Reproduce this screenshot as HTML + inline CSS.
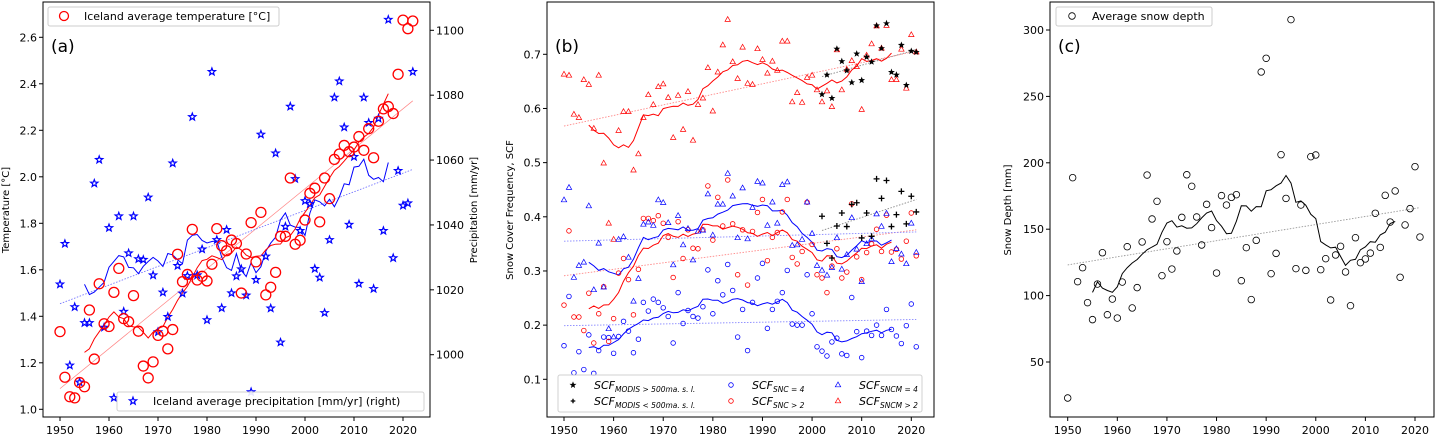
<!DOCTYPE html>
<html><head><meta charset="utf-8">
<style>
html,body{margin:0;padding:0;background:#fff;}
svg{display:block;font-family:"DejaVu Sans","Liberation Sans",sans-serif;}
</style></head>
<body>
<svg id="fig" width="1439" height="436" viewBox="0 0 1439 436" xmlns="http://www.w3.org/2000/svg"></svg>
<script>
// ---------- data ----------
const yearsA = Array.from({length:73},(_,i)=>1950+i);
const tempA = [1.334,1.138,1.054,1.049,1.115,1.097,1.427,1.216,1.54,1.368,1.356,1.503,1.606,1.39,1.377,1.489,1.336,1.186,1.135,1.204,1.318,1.336,1.26,1.343,1.667,1.549,1.58,1.774,1.556,1.572,1.552,1.624,1.777,1.704,1.682,1.728,1.713,1.5,1.668,1.803,1.634,1.847,1.492,1.525,1.589,1.744,1.744,1.995,1.71,1.727,1.814,1.929,1.951,1.806,1.995,1.906,2.075,2.098,2.135,2.108,2.128,2.173,2.114,2.207,2.082,2.239,2.292,2.302,2.272,2.441,2.674,2.637,2.67];
const precipA = [1021.7,1034.2,996.7,1014.7,991.5,1009.8,1009.8,1052.8,1060.1,1008.4,1039.1,986.7,1042.7,1013.3,1031.3,1042.7,1029.5,1029.3,1048.5,1024.5,1007,1019.2,1011.7,1059,1027.4,1018.9,1024.3,1073.3,1024.5,1032.5,1010.7,1087.2,1035.4,1014.4,1038.5,1019,1024.2,1026.4,1018.3,988.5,1023.1,1067.9,1030.3,1014.3,1062.1,1003.8,1039.5,1076.5,1054.2,1038.2,1047.4,1046.5,1026.5,1023.8,1012.9,1035.4,1079.3,1084.3,1070.1,1040.1,1061,1021.9,1079.3,1071.5,1020.3,1072.8,1038.2,1103.3,1029.8,1056.7,1046,1046.7,1087.2];
const tempTicks = [1.0,1.2,1.4,1.6,1.8,2.0,2.2,2.4,2.6];
const precipTicks = [1000,1020,1040,1060,1080,1100];
const yearTicks = [1950,1960,1970,1980,1990,2000,2010,2020];

const yearsB = Array.from({length:72},(_,i)=>1950+i);
const sncm2 = [.663,.661,.589,.583,.653,.644,.563,.661,.499,.388,.358,.559,.594,.594,.486,.516,.583,.625,.607,.640,.645,.620,.546,.624,.561,.631,.541,.607,.619,.675,.595,.667,.717,.764,.686,.655,.713,.646,.644,.710,.690,.665,.687,.670,.724,.724,.612,.629,.611,.657,.661,.634,.612,.632,.603,.708,.634,.672,.688,.677,.598,.698,.719,.752,.711,.753,.653,.653,.709,.637,.736,.704];
const sncm4 = [.431,.454,.288,.310,.316,.420,.265,.351,.270,.193,.178,.358,.363,.325,.244,.286,.386,.390,.384,.431,.426,.389,.311,.402,.348,.378,.320,.373,.375,.442,.366,.423,.423,.480,.438,.361,.453,.359,.417,.465,.462,.384,.427,.388,.459,.464,.347,.348,.358,.427,.369,.310,.301,.292,.306,.361,.303,.330,.398,.340,.280,.350,.359,.405,.382,.406,.317,.341,.331,.313,.388,.334];
const snc2 = [.237,.374,.215,.215,.190,.259,.167,.221,.271,.170,.212,.296,.323,.284,.219,.303,.397,.397,.393,.402,.388,.362,.288,.391,.323,.376,.342,.341,.376,.457,.357,.436,.383,.468,.387,.293,.376,.274,.373,.408,.432,.319,.362,.371,.409,.432,.325,.313,.336,.427,.349,.293,.287,.260,.309,.341,.287,.298,.424,.326,.284,.334,.350,.377,.336,.403,.335,.340,.322,.355,.407,.328];
const snc4 = [.162,.253,.112,.151,.118,.182,.111,.153,.178,.177,.148,.179,.207,.189,.149,.174,.242,.226,.248,.242,.232,.216,.167,.260,.203,.227,.216,.213,.234,.302,.221,.282,.256,.312,.264,.178,.229,.153,.242,.287,.314,.194,.229,.244,.260,.301,.202,.200,.200,.293,.221,.160,.152,.143,.169,.176,.147,.144,.251,.188,.140,.189,.181,.200,.181,.229,.192,.180,.166,.199,.239,.160];
const yearsM = Array.from({length:20},(_,i)=>2002+i);
const modisHi = [.626,.662,.619,.710,.687,.670,.648,.701,.652,.695,.686,.753,.711,.757,.667,.662,.717,.643,.706,.704];
const modisLo = [.401,.351,.324,.383,.407,.382,.423,.426,.361,.407,.364,.470,.434,.467,.382,.404,.447,.387,.438,.409];
const scfTicks = [0.1,0.2,0.3,0.4,0.5,0.6,0.7];

const yearsC = Array.from({length:72},(_,i)=>1950+i);
const depthC = [22.9,188.8,110.5,121,94.7,81.9,108.7,132.3,85.6,97.4,83.1,110.2,136.8,90.7,106,140.4,190.8,157.7,171,115,140.6,120,133.6,158.9,191,182.3,159.2,138.1,168.7,151.2,117,175.3,168.2,174,176,111.2,136.1,97,141.6,268.4,278.7,116.5,131.8,206.1,173.2,307.8,120.3,168.2,119,204.6,205.9,119.5,127.8,96.7,130.6,137.1,117.8,92.4,143.6,124.8,127.6,132,162,136.3,175.5,155.4,178.8,113.8,153.2,165.5,197.1,144.1];
const depthTicks = [50,100,150,200,250,300];

// ---------- helpers ----------
const NS="http://www.w3.org/2000/svg";
const fig=document.getElementById('fig');
function el(tag,attrs,parent){const e=document.createElementNS(NS,tag);for(const k in attrs)e.setAttribute(k,attrs[k]);(parent||fig).appendChild(e);return e;}
function lin(d0,d1,r0,r1){return v=>r0+(v-d0)*(r1-r0)/(d1-d0);}
function rolling(xs,vs,w){const h=Math.floor(w/2),ox=[],ov=[];for(let i=h;i<vs.length-h;i++){let s=0;for(let j=i-h;j<=i+h;j++)s+=vs[j];ox.push(xs[i]);ov.push(s/w);}return [ox,ov];}
function fit(xs,vs){const n=xs.length;let mx=0,my=0;for(let i=0;i<n;i++){mx+=xs[i];my+=vs[i];}mx/=n;my/=n;let a=0,b=0;for(let i=0;i<n;i++){a+=(xs[i]-mx)*(vs[i]-my);b+=(xs[i]-mx)**2;}const k=a/b;return x=>my+k*(x-mx);}
function pathD(xs,vs,sx,sy){return xs.map((x,i)=>(i?'L':'M')+sx(x).toFixed(1)+','+sy(vs[i]).toFixed(1)).join(' ');}
function starPts(cx,cy,r){let p=[];for(let i=0;i<10;i++){const rr=i%2?r*0.42:r;const a=-Math.PI/2+i*Math.PI/5;p.push((cx+rr*Math.cos(a)).toFixed(1)+','+(cy+rr*Math.sin(a)).toFixed(1));}return p.join(' ');}
function triPts(cx,cy,r){return [[cx,cy-r],[cx-r*0.9,cy+r*0.6],[cx+r*0.9,cy+r*0.6]].map(p=>p[0].toFixed(1)+','+p[1].toFixed(1)).join(' ');}
function marker(g,type,cx,cy,r,color){
  if(type==='circle')return el('circle',{cx:cx,cy:cy,r:r,fill:'none',stroke:color,'stroke-width':r>4?1.3:0.8},g);
  if(type==='star')return el('polygon',{points:starPts(cx,cy,r),fill:color==='#000'?'#000':'none',stroke:color,'stroke-width':color==='#000'?0.6:1.2},g);
  if(type==='tri')return el('polygon',{points:triPts(cx,cy,r),fill:'none',stroke:color,'stroke-width':0.7},g);
  if(type==='plus')return el('path',{d:`M${cx-r},${cy}H${cx+r}M${cx},${cy-r}V${cy+r}`,stroke:color,'stroke-width':1.3},g);
}
function frame(x0,x1,y0,y1,name){const r=el('rect',{x:x0,y:y0,width:x1-x0,height:y1-y0,fill:'none',stroke:'#000','stroke-width':1});

}
function xAxis(sx,yb,name){const g=el('g',{});


yearTicks.forEach(t=>{el('line',{x1:sx(t),x2:sx(t),y1:yb,y2:yb+4,stroke:'#000'},g);const tx=el('text',{x:sx(t),y:yb+17,'font-size':11,'text-anchor':'middle',fill:'#000'},g);tx.textContent=t;});}
function yAxis(sy,ticks,x,side,fmt,name){const g=el('g',{});


ticks.forEach(t=>{const y=sy(t);el('line',{x1:x,x2:x+(side<0?-4:4),y1:y,y2:y,stroke:'#000'},g);const tx=el('text',{x:x+(side<0?-6:6),y:y+4,'font-size':11,'text-anchor':side<0?'end':'start',fill:'#000'},g);tx.textContent=fmt(t);});}
function vlabel(x,y,txt,name,size){const t=el('text',{x:0,y:0,transform:`translate(${x},${y}) rotate(-90)`,'font-size':size||10,'text-anchor':'middle',fill:'#000'});t.textContent=txt;

}
function label(x,y,txt,name){const t=el('text',{x:x,y:y,'font-size':17,fill:'#000'});t.textContent=txt;

}

// ---------- panel (a) ----------
const axA={x0:43,x1:430,y0:2,y1:417};
const sxA=lin(1950,2020,60,403), syT=lin(1.0,2.6,409.3,37.3), syP=lin(1000,1100,354.7,30.3);
{
  const g=el('g',{});
  
  
  const fT=fit(yearsA,tempA), fP=fit(yearsA,precipA);
  const tl=el('line',{x1:sxA(1950),y1:syT(fT(1950)),x2:sxA(2022),y2:syT(fT(2022)),stroke:'#f66','stroke-width':0.7,opacity:0.8},g);
  
  
  const pl=el('line',{x1:sxA(1950),y1:syP(fP(1950)),x2:sxA(2022),y2:syP(fP(2022)),stroke:'#66f','stroke-width':0.8,'stroke-dasharray':'1.5,1.5'},g);
  
  
  const [rxT,rvT]=rolling(yearsA,tempA,11), [rxP,rvP]=rolling(yearsA,precipA,11);
  const lp=el('path',{d:pathD(rxP,rvP,sxA,syP),fill:'none',stroke:'#00f','stroke-width':1},g);
  
  
  const lt=el('path',{d:pathD(rxT,rvT,sxA,syT),fill:'none',stroke:'#f00','stroke-width':1},g);
  
  
  yearsA.forEach((y,i)=>{const m=marker(g,'star',sxA(y),syP(precipA[i]),3.8,'#00f');
    
    });
  yearsA.forEach((y,i)=>{const m=marker(g,'circle',sxA(y),syT(tempA[i]),5,'#f00');
    
    });
}
frame(axA.x0,axA.x1,axA.y0,axA.y1,'panel-a-frame');
xAxis(sxA,axA.y1,'panel-a-x-axis');
yAxis(syT,tempTicks,axA.x0,-1,t=>t.toFixed(1),'temperature-y-axis');
yAxis(syP,precipTicks,axA.x1,1,t=>t,'precipitation-y-axis');
vlabel(9,210,'Temperature [°C]','temperature-axis-title');
vlabel(477,210,'Precipitation [mm/yr]','precipitation-axis-title');
label(51,52,'(a)','panel-a-label');
{
  const g=el('g',{});
  
  
  el('rect',{x:48,y:7,width:231,height:19,rx:2,fill:'#fff',stroke:'#ccc'},g);
  marker(g,'circle',64,16,4.5,'#f00');
  const t=el('text',{x:84,y:20,'font-size':11,fill:'#000'},g);t.textContent='Iceland average temperature [°C]';
  const g2=el('g',{});
  
  
  el('rect',{x:117,y:392,width:307,height:19,rx:2,fill:'#fff',stroke:'#ccc',opacity:0.9},g2);
  marker(g2,'star',133,401,3.8,'#00f');
  const t2=el('text',{x:153,y:405,'font-size':11,fill:'#000'},g2);t2.textContent='Iceland average precipitation [mm/yr] (right)';
}

// ---------- panel (b) ----------
const axB={x0:547,x1:934,y0:2,y1:417};
const sxB=lin(1950,2020,564,911.3), syB=lin(0.1,0.7,379.3,54.3);
{
  const g=el('g',{});
  
  
  const trends=[[yearsB,sncm2,'#f88'],[yearsB,snc2,'#f88'],[yearsB,sncm4,'#88f'],[yearsB,snc4,'#88f'],[yearsM,modisHi,'#888'],[yearsM,modisLo,'#888']];
  trends.forEach(([xs,vs,c])=>{const f=fit(xs,vs);const x0=xs[0],x1=xs[xs.length-1];
    const l=el('line',{x1:sxB(x0),y1:syB(f(x0)),x2:sxB(x1),y2:syB(f(x1)),stroke:c,'stroke-width':0.9,'stroke-dasharray':'1.5,1.5'},g);
    
    });
  [[sncm2,'#f00'],[snc2,'#f00'],[sncm4,'#00f'],[snc4,'#00f']].forEach(([vs,c])=>{const [rx,rv]=rolling(yearsB,vs,11);
    const p=el('path',{d:pathD(rx,rv,sxB,syB),fill:'none',stroke:c,'stroke-width':1},g);
    
    });
  yearsB.forEach((y,i)=>{
    const a=marker(g,'circle',sxB(y),syB(snc4[i]),2.3,'#00f');
    
    
    const b=marker(g,'circle',sxB(y),syB(snc2[i]),2.3,'#f00');
    
    
    const c=marker(g,'tri',sxB(y),syB(sncm4[i]),3,'#00f');
    
    
    const d=marker(g,'tri',sxB(y),syB(sncm2[i]),3,'#f00');
    
    
  });
  yearsM.forEach((y,i)=>{
    const a=marker(g,'star',sxB(y),syB(modisHi[i]),2.8,'#000');
    
    
    const b=marker(g,'plus',sxB(y),syB(modisLo[i]),3,'#000');
    
    
  });
}
frame(axB.x0,axB.x1,axB.y0,axB.y1,'panel-b-frame');
xAxis(sxB,axB.y1,'panel-b-x-axis');
yAxis(syB,scfTicks,axB.x0,-1,t=>t.toFixed(1),'scf-y-axis');
vlabel(513,210,'Snow Cover Frequency, SCF','scf-axis-title');
label(555,52,'(b)','panel-b-label');
{
  const g=el('g',{});
  
  
  el('rect',{x:558,y:375,width:364,height:37,rx:2,fill:'#fff',stroke:'#ccc',opacity:0.9},g);
  const items=[[573,385,'star','#000','MODIS > 500ma. s. l.'],[573,401,'plus','#000','MODIS < 500ma. s. l.'],[731,385,'circle','#00f','SNC = 4'],[731,401,'circle','#f00','SNC > 2'],[838,385,'tri','#00f','SNCM = 4'],[838,401,'tri','#f00','SNCM > 2']];
  items.forEach(([x,y,t,c,sub])=>{marker(g,t,x,y,t==='star'?2.8:(t==='tri'?3:2.3),c);
    const tx=el('text',{x:x+21,y:y+4,'font-size':11,'font-style':'italic',fill:'#000'},g);
    const a=el('tspan',{},tx);a.textContent='SCF';
    const b=el('tspan',{'font-size':7.5,dy:3},tx);b.textContent=sub;});
}

// ---------- panel (c) ----------
const axC={x0:1050,x1:1434,y0:2,y1:417};
const sxC=lin(1950,2020,1067.7,1415), syC=lin(50,300,362,30);
{
  const g=el('g',{});
  
  
  const f=fit(yearsC,depthC);
  const tl=el('line',{x1:sxC(1950),y1:syC(f(1950)),x2:sxC(2021),y2:syC(f(2021)),stroke:'#999','stroke-width':0.9,'stroke-dasharray':'1.5,1.5'},g);
  
  
  const [rx,rv]=rolling(yearsC,depthC,11);
  const p=el('path',{d:pathD(rx,rv,sxC,syC),fill:'none',stroke:'#000','stroke-width':1},g);
  
  
  yearsC.forEach((y,i)=>{const m=marker(g,'circle',sxC(y),syC(depthC[i]),3.3,'#000');
    
    });
}
frame(axC.x0,axC.x1,axC.y0,axC.y1,'panel-c-frame');
xAxis(sxC,axC.y1,'panel-c-x-axis');
yAxis(syC,depthTicks,axC.x0,-1,t=>t,'snow-depth-y-axis');
vlabel(1011,210,'Snow Depth [mm]','snow-depth-axis-title');
label(1058,52,'(c)','panel-c-label');
{
  const g=el('g',{});
  
  
  el('rect',{x:1056,y:7,width:156,height:19,rx:2,fill:'#fff',stroke:'#ccc'},g);
  marker(g,'circle',1072,16,3.3,'#000');
  const t=el('text',{x:1092,y:20,'font-size':11,fill:'#000'},g);t.textContent='Average snow depth';
}
</script>
</body></html>
